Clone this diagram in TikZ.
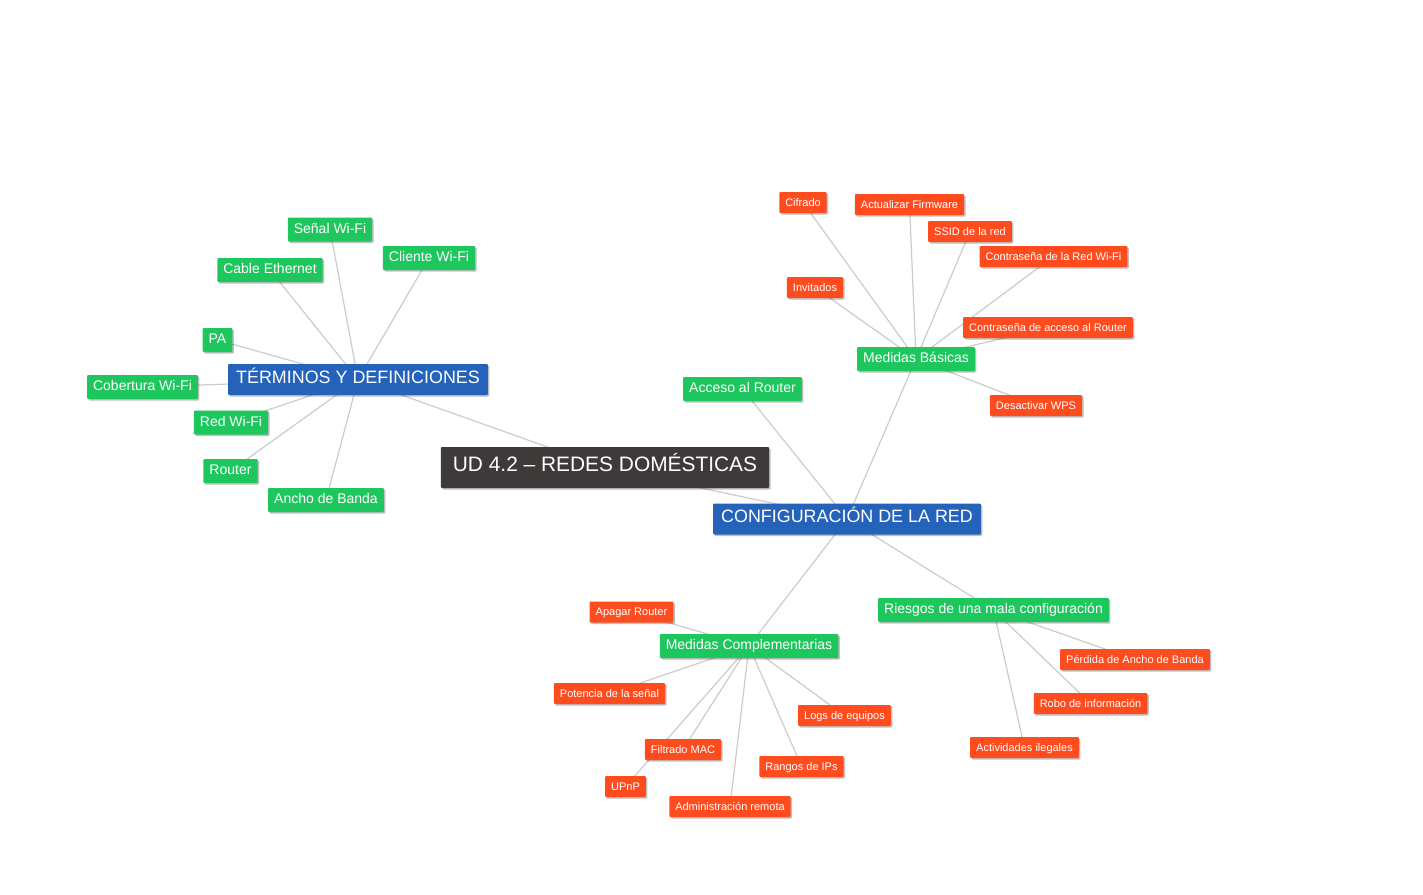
\documentclass[tikz,border=0pt]{standalone}
\usepackage{fontspec}
\setmainfont{Liberation Sans}
\usetikzlibrary{backgrounds,shadows}
\definecolor{cgreen}{RGB}{30,198,94}
\definecolor{cred}{RGB}{255,76,30}
\definecolor{cblue}{RGB}{37,99,186}
\definecolor{cdark}{RGB}{62,58,57}
\definecolor{cline}{RGB}{204,204,204}
\tikzset{
  box/.style={rectangle, text=white, rounded corners=1pt, text height=.76em, text depth=0em,
    drop shadow={shadow xshift=1.5pt, shadow yshift=-1.5pt, opacity=0.25, fill=black}},
  rootbox/.style={box, fill=cdark, font=\fontsize{20.9}{24}\selectfont, inner xsep=12pt, inner ysep=0pt, minimum height=41pt},
  mainbox/.style={box, fill=cblue, font=\fontsize{17.9}{20}\selectfont, inner xsep=8pt, inner ysep=0pt, minimum height=31pt},
  greenbox/.style={box, fill=cgreen, font=\fontsize{14}{16}\selectfont, inner xsep=6pt, inner ysep=0pt, minimum height=24pt},
  redbox/.style={box, fill=cred, font=\fontsize{11}{13}\selectfont, inner xsep=6pt, inner ysep=0pt, minimum height=21pt},
  link/.style={draw=cline, line width=1.2pt}
}
\begin{document}
\begin{tikzpicture}[x=1pt,y=-1pt]
\useasboundingbox (0,0) rectangle (1423,894);
% root and main topics
\node[rootbox] (ud) at (605,467.5) {UD 4.2 – REDES DOMÉSTICAS};
\node[mainbox] (td) at (358,379.5) {TÉRMINOS Y DEFINICIONES};
\node[mainbox] (cr) at (847,519) {CONFIGURACIÓN DE LA RED};
% terms
\node[greenbox] (senal) at (330,229.5) {Señal Wi-Fi};
\node[greenbox] (cliente) at (429,258) {Cliente Wi-Fi};
\node[greenbox] (cable) at (270,270) {Cable Ethernet};
\node[greenbox] (pa) at (217.5,340) {PA};
\node[greenbox] (cobertura) at (142.5,387) {Cobertura Wi-Fi};
\node[greenbox] (redwifi) at (231,422.5) {Red Wi-Fi};
\node[greenbox] (router) at (230.5,471) {Router};
\node[greenbox] (ancho) at (326,500) {Ancho de Banda};
% configuration
\node[greenbox] (acceso) at (742.5,389) {Acceso al Router};
\node[greenbox] (mb) at (916,359) {Medidas Básicas};
\node[greenbox] (mc) at (749,646) {Medidas Complementarias};
\node[greenbox] (ri) at (993.5,610) {Riesgos de una mala configuración};
% medidas basicas
\node[redbox] (cifrado) at (803,202.5) {Cifrado};
\node[redbox] (firmware) at (909.5,204.5) {Actualizar Firmware};
\node[redbox] (ssid) at (970,231.5) {SSID de la red};
\node[redbox] (passred) at (1053.5,256.5) {Contraseña de la Red Wi-Fi};
\node[redbox] (invitados) at (815,287.5) {Invitados};
\node[redbox] (passrouter) at (1048,327.5) {Contraseña de acceso al Router};
\node[redbox] (wps) at (1036,405.5) {Desactivar WPS};
% medidas complementarias
\node[redbox] (apagar) at (631.5,612) {Apagar Router};
\node[redbox] (potencia) at (609.5,693.5) {Potencia de la señal};
\node[redbox] (mac) at (683,749.5) {Filtrado MAC};
\node[redbox] (upnp) at (625.5,786.5) {UPnP};
\node[redbox] (admin) at (730,806.5) {Administración remota};
\node[redbox] (rangos) at (801.5,766.5) {Rangos de IPs};
\node[redbox] (logs) at (844.5,715.5) {Logs de equipos};
% riesgos
\node[redbox] (perdida) at (1135,659.5) {Pérdida de Ancho de Banda};
\node[redbox] (robo) at (1090.5,703.5) {Robo de información};
\node[redbox] (ilegales) at (1024.5,747.5) {Actividades ilegales};
\begin{scope}[on background layer]
\fill[white] (0,0) rectangle (1423,894);
\foreach \a/\b in {ud/td, ud/cr,
  td/senal, td/cliente, td/cable, td/pa, td/cobertura, td/redwifi, td/router, td/ancho,
  cr/acceso, cr/mb, cr/mc, cr/ri,
  mb/cifrado, mb/firmware, mb/ssid, mb/passred, mb/invitados, mb/passrouter, mb/wps,
  mc/apagar, mc/potencia, mc/mac, mc/upnp, mc/admin, mc/rangos, mc/logs,
  ri/perdida, ri/robo, ri/ilegales}
  \draw[link] (\a.center) -- (\b.center);
\end{scope}
\end{tikzpicture}
\end{document}
